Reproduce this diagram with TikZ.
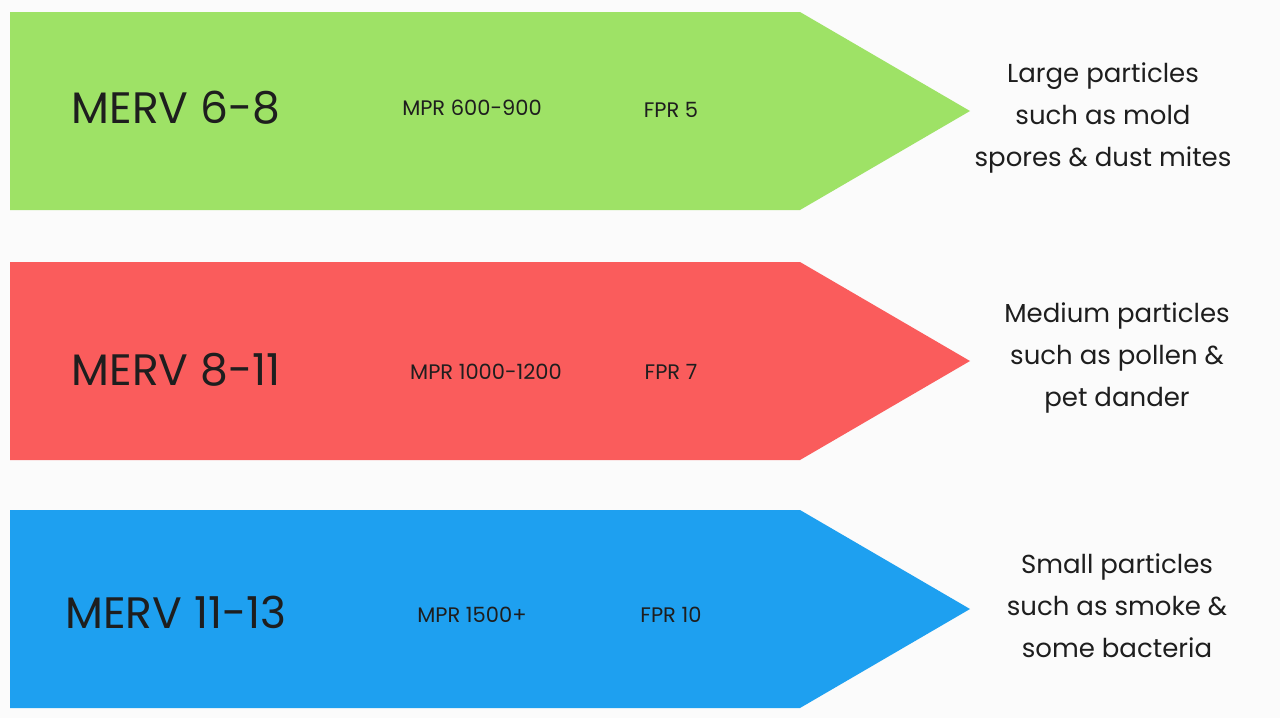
\documentclass[tikz,border=0pt]{standalone}
\usepackage{fontspec}
\setmainfont{Poppins}
\definecolor{bg}{HTML}{FBFBFB}
\definecolor{gr}{HTML}{9EE266}
\definecolor{rd}{HTML}{FA5C5C}
\definecolor{bl}{HTML}{1EA0F0}
\definecolor{tx}{HTML}{1E1E1E}
\begin{document}
\begin{tikzpicture}[x=1pt,y=-1pt,
  merv/.style={font=\fontsize{44}{50}\selectfont,text=tx},
  small/.style={font=\fontsize{21}{25}\selectfont,text=tx},
  desc/.style={font=\fontsize{26}{42}\selectfont,text=tx,align=center}]
\fill[bg] (0,0) rectangle (1280,718);
\useasboundingbox (0,0) rectangle (1280,718);
\fill[gr] (10,12) -- (800,12) -- (970,111) -- (800,210) -- (10,210) -- cycle;
\fill[rd] (10,262) -- (800,262) -- (970,361) -- (800,460) -- (10,460) -- cycle;
\fill[bl] (10,510) -- (800,510) -- (970,609) -- (800,708) -- (10,708) -- cycle;
\node[merv] (m1) at (176,108) {MERV 6-8};
\node[small] (p1) at (472,108) {MPR 600-900};
\node[small] (f1) at (671,110) {FPR 5};
\node[desc] (d1) at (1103,118) {Large particles\\such as mold\\spores \& dust mites};
\node[merv] (m2) at (176,370) {MERV 8-11};
\node[small] (p2) at (486,372) {MPR 1000-1200};
\node[small] (f2) at (671,372) {FPR 7};
\node[desc] (d2) at (1117,358) {Medium particles\\such as pollen \&\\pet dander};
\node[merv] (m3) at (176,612) {MERV 11-13};
\node[small] (p3) at (472,615) {MPR 1500+};
\node[small] (f3) at (671,615) {FPR 10};
\node[desc] (d3) at (1117,606) {Small particles\\such as smoke \&\\some bacteria};
\end{tikzpicture}
\end{document}
